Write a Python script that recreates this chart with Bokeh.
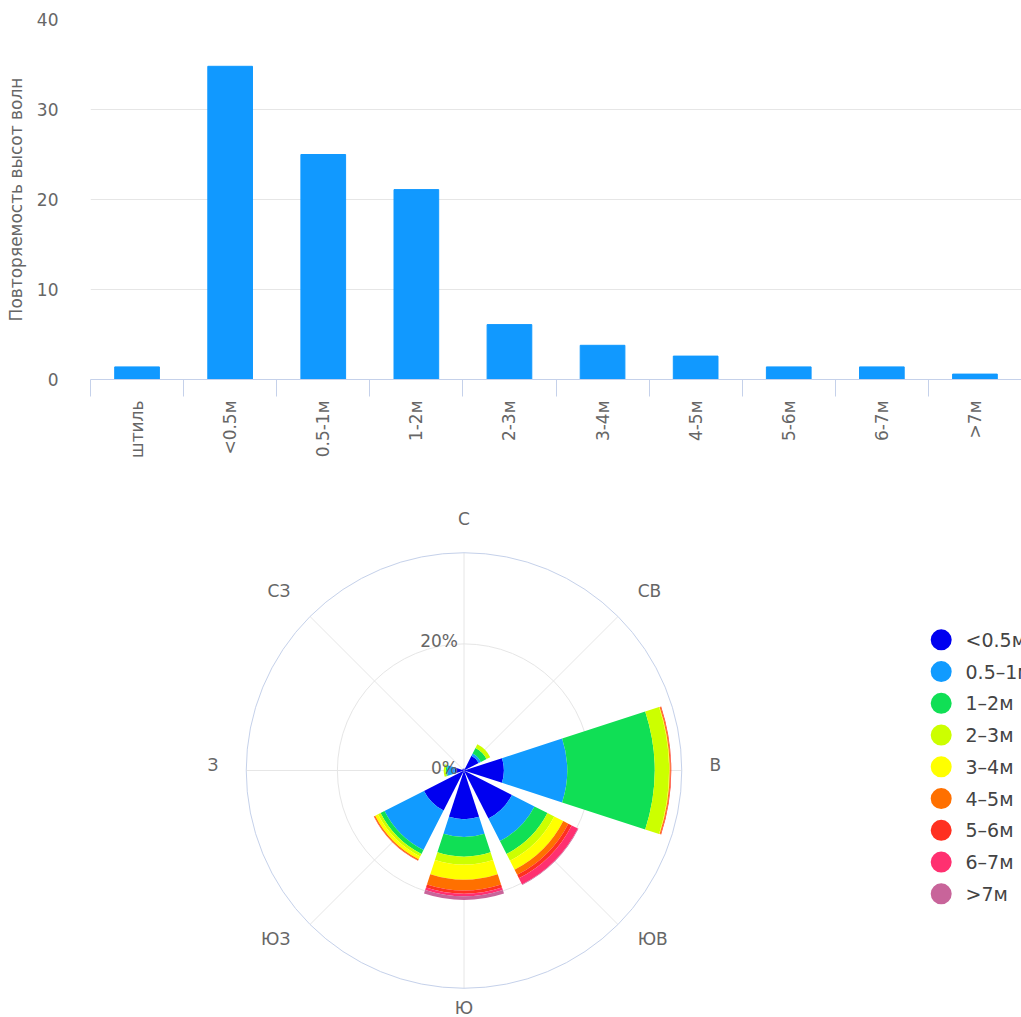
import math
from bokeh.plotting import figure
from bokeh.layouts import column
from bokeh.models import Range1d, FixedTicker, ColumnDataSource
from bokeh.core.properties import value
from bokeh.embed import file_html
from bokeh.resources import INLINE

# ---------------- data ----------------
wave_classes = ["штиль", "<0.5м", "0.5-1м", "1-2м", "2-3м", "3-4м", "4-5м", "5-6м", "6-7м", ">7м"]
wave_freq = [1.4, 34.8, 25.0, 21.1, 6.1, 3.8, 2.6, 1.4, 1.4, 0.6]
bar_y_ticks = [0, 10, 20, 30, 40]

directions = ["С", "СВ", "В", "ЮВ", "Ю", "ЮЗ", "З", "СЗ"]
rose_classes = ["<0.5м", "0.5–1м", "1–2м", "2–3м", "3–4м", "4–5м", "5–6м", "6–7м", ">7м"]
# percent per direction (С, СВ, В, ЮВ, Ю, ЮЗ, З, СЗ)
h_lt05 = [0.3, 2.6, 6.3, 8.5, 7.7, 7.1, 1.5, 0.3]
h_05_1 = [0.0, 0.4, 10.0, 4.0, 2.8, 7.0, 1.2, 0.0]
h_1_2 = [0.0, 1.0, 13.8, 2.3, 3.1, 0.7, 0.2, 0.0]
h_2_3 = [0.0, 0.65, 2.3, 1.2, 1.25, 0.45, 0.3, 0.0]
h_3_4 = [0.0, 0.0, 0.1, 1.6, 2.4, 0.5, 0.0, 0.0]
h_4_5 = [0.0, 0.0, 0.15, 0.9, 1.7, 0.2, 0.0, 0.0]
h_5_6 = [0.0, 0.0, 0.1, 0.6, 0.5, 0.05, 0.0, 0.0]
h_6_7 = [0.0, 0.0, 0.0, 1.1, 0.4, 0.0, 0.0, 0.0]
h_gt7 = [0.0, 0.0, 0.0, 0.1, 0.6, 0.0, 0.0, 0.0]
rose_series = [h_lt05, h_05_1, h_1_2, h_2_3, h_3_4, h_4_5, h_5_6, h_6_7, h_gt7]
rose_colors = ["#0000f0", "#119bff", "#10df55", "#ccff00", "#ffff00",
               "#ff7000", "#ff3020", "#ff3070", "#c8649a"]
radial_ticks = [0, 20]
radial_max = 34.4

# ---------------- styles ----------------
FONT = "DejaVu Sans"
FS = "17px"
TXT = "#666666"
GRID = "#e6e6e6"
AXIS = "#c5d1ea"
BAR = "#1199ff"
W = 1021
LEFT = 90            # frame left edge (both figures, so the column keeps them aligned)

# ---------------- bar chart ----------------
n = len(wave_classes)
centers = [i + 0.5 for i in range(n)]          # category centres on the index scale
p1 = figure(width=W, height=480, x_range=Range1d(0, n), y_range=Range1d(0, 40),
            output_backend="svg", toolbar_location=None,
            min_border_left=LEFT, min_border_right=0, min_border_top=19, min_border_bottom=101)
p1.outline_line_color = None
p1.xgrid.visible = False
p1.ygrid.ticker = FixedTicker(ticks=bar_y_ticks)
p1.ygrid.grid_line_color = GRID
p1.ygrid.grid_line_width = 1

p1.vbar(x=centers, top=wave_freq, width=0.48, fill_color=BAR, line_color=BAR)

xa = p1.xaxis[0]
xa.ticker = FixedTicker(ticks=centers, minor_ticks=list(range(n + 1)))
xa.major_label_overrides = {c: lab for c, lab in zip(centers, wave_classes)}
xa.major_label_orientation = math.pi / 2
xa.major_tick_out = 0
xa.major_tick_in = 0
xa.minor_tick_out = 17
xa.minor_tick_in = 0
xa.minor_tick_line_color = AXIS
xa.minor_tick_line_width = 1
xa.axis_line_color = AXIS
xa.axis_line_width = 1
xa.major_label_standoff = 4
xa.major_label_text_font = FONT
xa.major_label_text_font_size = FS
xa.major_label_text_color = TXT

ya = p1.yaxis[0]
ya.ticker = FixedTicker(ticks=bar_y_ticks)
ya.axis_line_color = None
ya.major_tick_line_color = None
ya.minor_tick_line_color = None
ya.major_label_standoff = 26
ya.major_label_text_font = FONT
ya.major_label_text_font_size = FS
ya.major_label_text_color = TXT
ya.axis_label = "Повторяемость высот волн"
ya.axis_label_standoff = 8
ya.axis_label_text_font = FONT
ya.axis_label_text_font_size = FS
ya.axis_label_text_font_style = "normal"
ya.axis_label_text_color = TXT

# ---------------- wind rose ----------------
H2 = 537
SCALE = 6.33            # px per percent
CX, CY = 373.5, 290     # rose centre, px inside the frame
FW = W - LEFT           # frame width
p2 = figure(width=W, height=H2,
            x_range=Range1d(-CX / SCALE, (FW - CX) / SCALE),
            y_range=Range1d(-(H2 - CY) / SCALE, CY / SCALE),
            output_backend="svg", toolbar_location=None,
            x_axis_location=None, y_axis_location=None,
            min_border_left=LEFT, min_border_right=0, min_border_top=0, min_border_bottom=0)
p2.outline_line_color = None
p2.grid.visible = False

nd = len(directions)
ang_deg = [90 - i * 360 / nd for i in range(nd)]
# angular grid lines
p2.segment(x0=[0] * nd, y0=[0] * nd,
           x1=[radial_max * math.cos(math.radians(a)) for a in ang_deg],
           y1=[radial_max * math.sin(math.radians(a)) for a in ang_deg],
           line_color=GRID, line_width=1)
# radial grid circles
for t in radial_ticks[1:]:
    p2.circle(x=[0], y=[0], radius=t, fill_color=None, line_color=GRID, line_width=1)
p2.circle(x=[0], y=[0], radius=radial_max, fill_color=None, line_color=AXIS, line_width=1)

# stacked wedges
half = 18
rows = dict(inner=[], outer=[], start=[], end=[], color=[])
for d in range(nd):
    base = 0.0
    for k, ser in enumerate(rose_series):
        v = ser[d]
        if v > 0:
            rows["inner"].append(base)
            rows["outer"].append(base + v)
            rows["start"].append(math.radians(ang_deg[d] - half))
            rows["end"].append(math.radians(ang_deg[d] + half))
            rows["color"].append(rose_colors[k])
        base += v
p2.annular_wedge(x=0, y=0, inner_radius="inner", outer_radius="outer",
                 start_angle="start", end_angle="end", fill_color="color",
                 line_color=None, source=ColumnDataSource(rows))

# radial tick labels
p2.text(x=[0] * len(radial_ticks), y=radial_ticks, text=[f"{t}%" for t in radial_ticks],
        text_align="right", text_baseline="alphabetic", x_offset=-6, y_offset=-3,
        text_font=value(FONT), text_font_size=FS, text_color=TXT)

# angular labels
R_LAB = radial_max * 1.128
lab_x, lab_y, lab_align, lab_dy = [], [], [], []
for d in range(nd):
    a = math.radians(ang_deg[d])
    c, s = math.cos(a), math.sin(a)
    lab_x.append(R_LAB * c)
    lab_y.append(R_LAB * s)
    lab_align.append("left" if c > 0.1 else ("right" if c < -0.1 else "center"))
    lab_dy.append(-8 if s < -0.9 else -5.5)
p2.text(x="x", y="y", text="t", text_align="a", y_offset="dy",
        source=ColumnDataSource(dict(x=lab_x, y=lab_y, t=directions, a=lab_align, dy=lab_dy)),
        text_baseline="middle", text_font=value(FONT), text_font_size=FS, text_color=TXT)

# legend (positions in frame px)
LEG_X, LEG_TX, LEG_Y0, LEG_DY = 850.7, 875.0, 159.3, 31.75
leg_x = [(LEG_X - CX) / SCALE] * len(rose_classes)
leg_tx = [(LEG_TX - CX) / SCALE] * len(rose_classes)
leg_y = [(CY - (LEG_Y0 + i * LEG_DY)) / SCALE for i in range(len(rose_classes))]
p2.scatter(x=leg_x, y=leg_y, size=21, marker="circle", fill_color=rose_colors, line_color=None)
p2.text(x=leg_tx, y=leg_y, text=rose_classes, text_align="left", text_baseline="middle",
        text_font=value(FONT), text_font_size="19px", text_color="#444444")

layout = column(p1, p2, spacing=0)
open("out.html", "w").write(file_html(layout, INLINE))
